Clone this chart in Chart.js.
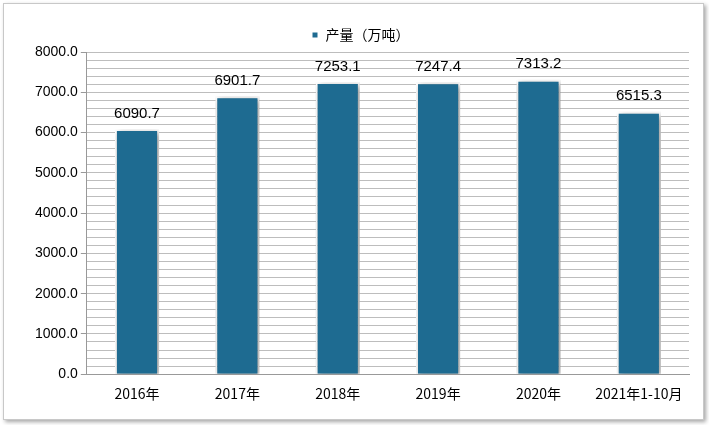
<!DOCTYPE html>
<html>
<head>
<meta charset="utf-8">
<script src="https://cdn.jsdelivr.net/npm/chart.js@4/dist/chart.umd.min.js"></script>
<style>
  body { margin: 0; background: #fff; }
  #wrap { position: absolute; left: 3px; top: 3px; width: 699px; height: 415px; border: 1px solid #c8c8c8; box-shadow: 2px 2px 4px rgba(0,0,0,0.35); background: #fff; }
  canvas { display: block; }
</style>
</head>
<body>
<div id="wrap"><canvas id="chart" width="699" height="415"></canvas></div>
<script>
// Production data
const categories = ['2016年', '2017年', '2018年', '2019年', '2020年', '2021年1-10月'];
const output = [6090.7, 6901.7, 7253.1, 7247.4, 7313.2, 6515.3];
const seriesName = '产量（万吨）';

const barLabels = {
    id: 'barLabels',
    afterDatasetsDraw(chart) {
        const ctx = chart.ctx;
        const meta = chart.getDatasetMeta(0);
        ctx.save();
        ctx.font = '15px "Liberation Sans", Arial, sans-serif';
        ctx.fillStyle = '#000';
        ctx.textAlign = 'center';
        ctx.textBaseline = 'bottom';
        meta.data.forEach((bar, i) => {
            ctx.fillText(output[i].toFixed(1), bar.x, bar.y - 8);
        });
        ctx.restore();
    }
};

const barShadow = {
    id: 'barShadow',
    beforeDatasetsDraw(chart) {
        chart.ctx.save();
        chart.ctx.shadowColor = 'rgba(0,0,0,0.45)';
        chart.ctx.shadowBlur = 6;
        chart.ctx.shadowOffsetX = 2;
        chart.ctx.shadowOffsetY = 2;
    },
    afterDatasetsDraw(chart) {
        chart.ctx.restore();
    }
};

new Chart(document.getElementById('chart'), {
    type: 'bar',
    data: {
        labels: categories,
        datasets: [{
            label: seriesName,
            data: output,
            backgroundColor: '#1e6b91',
            borderColor: '#ffffff',
            borderWidth: 2,
            barPercentage: 0.44,
            categoryPercentage: 1.0
        }]
    },
    options: {
        responsive: false,
        animation: false,
        layout: { padding: { left: 28, right: 14, top: 4, bottom: 14 } },
        plugins: {
            legend: {
                position: 'top',
                labels: {
                    boxWidth: 7, boxHeight: 7, color: '#000',
                    font: { size: 14, family: '"Noto Sans CJK SC", sans-serif' },
                    padding: 20
                }
            },
            tooltip: { enabled: false }
        },
        scales: {
            x: {
                grid: { display: false },
                border: { color: '#999' },
                ticks: { color: '#000', font: { size: 14, family: '"Noto Sans CJK SC", sans-serif' } }
            },
            y: {
                min: 0, max: 8000,
                border: { color: '#999' },
                grid: {
                    color: '#bdbdbd',
                    tickColor: (c) => (c.tick && c.tick.value % 1000 === 0) ? '#999' : 'transparent',
                    tickLength: 6
                },
                ticks: {
                    stepSize: 200,
                    autoSkip: false,
                    color: '#000',
                    font: { size: 14, family: '"Liberation Sans", Arial, sans-serif' },
                    callback: (v) => v % 1000 === 0 ? v.toFixed(1) : ''
                }
            }
        }
    },
    plugins: [barShadow, barLabels]
});
</script>
</body>
</html>
